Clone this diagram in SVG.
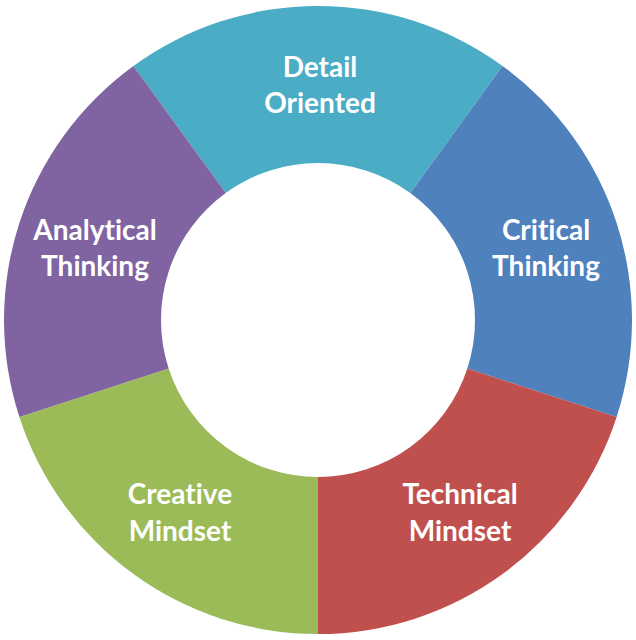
<svg xmlns="http://www.w3.org/2000/svg" width="636" height="640" viewBox="0 0 636 640">
<style>
.seg{stroke:none}
.lbl{font-family:Lato,"Open Sans","Liberation Sans",sans-serif;font-weight:bold;font-size:28px;fill:#ffffff;text-anchor:middle;font-variant-ligatures:none;font-feature-settings:"liga" 0,"clig" 0}
</style>
<rect width="636" height="640" fill="#ffffff"/>
<g id="detail-oriented">
<path class="seg" fill="#4BACC6" d="M133.44,65.97 A314,314 0 0 1 502.56,65.97 L410.28,192.98 A157,157 0 0 0 225.72,192.98 Z"/>
<text class="lbl" x="320" y="77">Detail</text>
<text class="lbl" x="320" y="113">Oriented</text>
</g>
<g id="critical-thinking">
<path class="seg" fill="#4F81BD" d="M502.56,65.97 A314,314 0 0 1 616.63,417.03 L467.32,368.52 A157,157 0 0 0 410.28,192.98 Z"/>
<text class="lbl" x="546" y="240">Critical</text>
<text class="lbl" x="546" y="276">Thinking</text>
</g>
<g id="technical-mindset">
<path class="seg" fill="#C0504D" d="M616.63,417.03 A314,314 0 0 1 318,634 L318,477 A157,157 0 0 0 467.32,368.52 Z"/>
<text class="lbl" x="460" y="504">Technical</text>
<text class="lbl" x="460" y="541">Mindset</text>
</g>
<g id="creative-mindset">
<path class="seg" fill="#9BBB59" d="M318,634 A314,314 0 0 1 19.37,417.03 L168.68,368.52 A157,157 0 0 0 318,477 Z"/>
<text class="lbl" x="180" y="504">Creative</text>
<text class="lbl" x="180" y="541">Mindset</text>
</g>
<g id="analytical-thinking">
<path class="seg" fill="#8064A2" d="M19.37,417.03 A314,314 0 0 1 133.44,65.97 L225.72,192.98 A157,157 0 0 0 168.68,368.52 Z"/>
<text class="lbl" x="95" y="240">Analytical</text>
<text class="lbl" x="95" y="276">Thinking</text>
</g>
</svg>
